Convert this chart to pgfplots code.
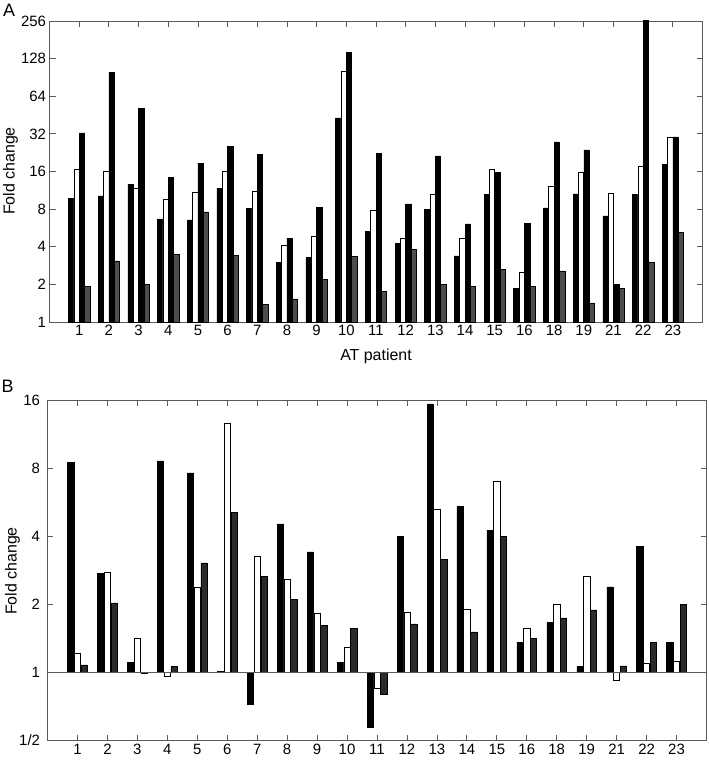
\documentclass[border=0pt]{standalone}
\usepackage{pgfplots}
\pgfplotsset{compat=1.18}
\usepackage{pgfplotstable}
\usepackage{fontspec}
\setmainfont{Liberation Sans}
\definecolor{axgray}{HTML}{5A5A5A}
\definecolor{barA}{HTML}{4D4D4D}
\definecolor{barB}{HTML}{2B2B2B}

\pgfplotstableread{
x a b c d
1 9.7 16.8 32.6 1.92
2 10.2 16.1 99 3.08
3 12.7 11.7 51.4 2.0
4 6.7 9.6 14.3 3.5
5 6.55 10.9 18.7 7.6
6 11.7 16.0 25.5 3.39
7 8.07 11.2 21.8 1.39
8 3.02 4.13 4.68 1.53
9 3.27 4.88 8.28 2.2
10 43 101.8 144 3.36
11 5.32 7.84 22.3 1.75
12 4.23 4.65 8.8 3.79
13 8.0 10.6 21.3 1.99
14 3.38 4.65 6.1 1.94
15 10.5 16.8 15.7 2.62
16 1.85 2.48 6.16 1.94
17 8.17 12.2 27.6 2.56
18 10.6 15.9 23.8 1.42
19 7.06 10.7 2.01 1.86
20 10.5 17.6 300 2.98
21 18.3 30.3 30.3 5.18
}\dataA

\pgfplotstableread{
x a b c
1 8.48 1.21 1.08
2 2.75 2.78 2.03
3 1.11 1.41 0.99
4 8.6 0.957 1.06
5 7.63 2.37 3.05
6 1.01 12.6 5.1
7 0.72 3.26 2.66
8 4.54 2.59 2.11
9 3.41 1.82 1.61
10 1.11 1.29 1.57
11 0.574 0.847 0.797
12 3.98 1.84 1.64
13 15.4 5.28 3.15
14 5.4 1.9 1.51
15 4.26 7.02 3.98
16 1.36 1.56 1.41
17 1.66 2.0 1.74
18 1.06 2.66 1.89
19 2.39 0.922 1.07
20 3.61 1.10 1.36
21 1.36 1.12 2.0
}\dataB

\pgfplotsset{
  mycommon/.style={
    scale only axis,
    anchor=south west,
    xmin=0, xmax=22,
    xtick={1,2,3,4,5,6,7,8,9,10,11,12,13,14,15,16,17,18,19,20,21},
    xticklabels={1,2,3,4,5,6,7,8,9,10,11,12,13,14,15,16,18,19,21,22,23},
    /pgf/number format/assume math mode=true,
    tick label style={font=\fontsize{15}{17}\selectfont, black},
    tick align=inside,
    major tick length=6bp,
    minor tick num=0,
    tick style={axgray, line width=0.8bp},
    axis line style={axgray, line width=0.8bp},
    ytick pos=both,
  },
}

\begin{document}
\begin{tikzpicture}
\path[use as bounding box] (0,0) rectangle (709bp,-764bp);

\begin{axis}[ymode=log, log basis y=2, mycommon,
  at={(49.5bp,-322bp)},
  width=653bp, height=301bp,
  ymin=1, ymax=256,
  ytick={1,2,4,8,16,32,64,128,256},
  yticklabels={1,2,4,8,16,32,64,128,256},
  xtick pos=right, xticklabel pos=left,
]
\addplot[ybar, bar width=0.18, bar shift=-0.27, fill=black, draw=black, line width=0.5bp] table[x=x,y=a] {\dataA};
\addplot[ybar, bar width=0.18, bar shift=-0.09, fill=white, draw=black, line width=0.6bp] table[x=x,y=b] {\dataA};
\addplot[ybar, bar width=0.18, bar shift=0.09, fill=black, draw=black, line width=0.5bp] table[x=x,y=c] {\dataA};
\addplot[ybar, bar width=0.18, bar shift=0.27, fill=barA, draw=black, line width=0.5bp] table[x=x,y=d] {\dataA};
\end{axis}

\begin{axis}[ymode=log, log basis y=2, mycommon,
  at={(47.5bp,-740.5bp)},
  width=659bp, height=340.5bp,
  ymin=0.5, ymax=16,
  ytick={0.5,1,2,4,8,16},
  yticklabels={1/2,1,2,4,8,16},
  xtick pos=both,
  yticklabel style={xshift=-4bp},
]
\addplot[ybar, bar width=0.21, bar shift=-0.225, fill=black, draw=black, line width=0.5bp] table[x=x,y=a] {\dataB};
\addplot[ybar, bar width=0.21, bar shift=0, fill=white, draw=black, line width=0.6bp] table[x=x,y=b] {\dataB};
\addplot[ybar, bar width=0.21, bar shift=0.225, fill=barB, draw=black, line width=0.5bp] table[x=x,y=c] {\dataB};
\draw[axgray, line width=0.8bp] (axis cs:0,1) -- (axis cs:22,1);
\end{axis}

\node[font=\fontsize{16}{19}\selectfont, rotate=90] at (10.5bp,-171bp) {Fold change};
\node[font=\fontsize{16}{19}\selectfont] at (376bp,-356bp) {AT patient};
\node[font=\fontsize{16}{19}\selectfont, rotate=90] at (12.5bp,-571bp) {Fold change};
\node[font=\fontsize{18}{21}\selectfont, inner sep=0pt] at (9bp,-10.5bp) {A};
\node[font=\fontsize{18}{21}\selectfont, inner sep=0pt] at (7.5bp,-386.5bp) {B};
\end{tikzpicture}
\end{document}
